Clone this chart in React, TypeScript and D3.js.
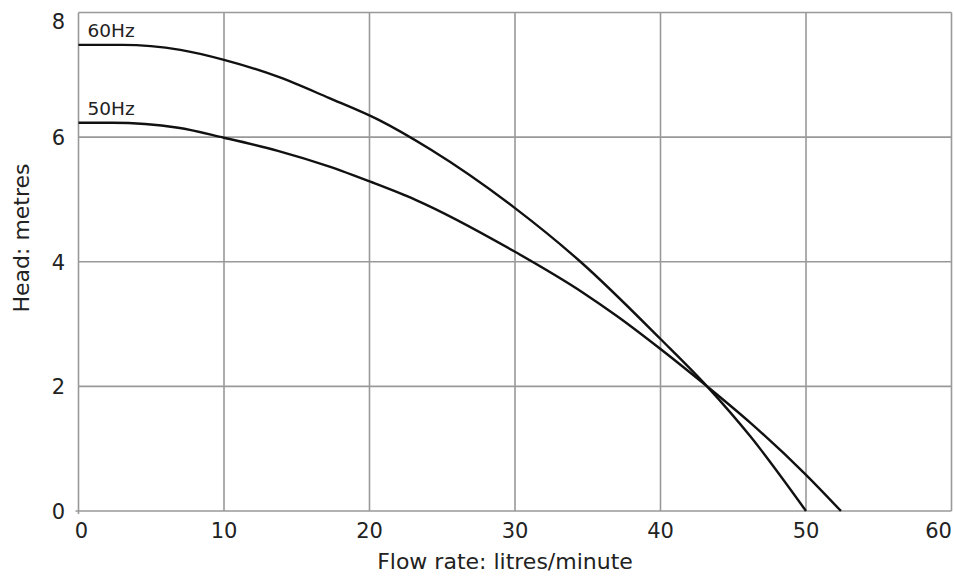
import React from "react";
import * as d3 from "d3";

const flow60 = [0, 3, 7, 10, 13.7, 17.2, 20.6, 24.2, 30, 34.5, 40, 43.2, 46.2, 50];
const head60 = [7.48, 7.48, 7.4, 7.24, 6.97, 6.63, 6.28, 5.8, 4.86, 4.0, 2.76, 2.0, 1.19, 0];
const flow50 = [0, 2.3, 6.85, 10, 13.7, 17.2, 20.1, 23.2, 30, 34.7, 37, 40, 43.2, 46.2, 50, 52.4];
const head50 = [6.23, 6.23, 6.15, 5.99, 5.78, 5.53, 5.28, 4.99, 4.16, 3.5, 3.13, 2.6, 2.0, 1.41, 0.58, 0];
const xTicks = [0, 10, 20, 30, 40, 50, 60];
const yTicks = [0, 2, 4, 6, 8];
const seriesLabels = ["60Hz", "50Hz"];

const W = 954;
const H = 576;
const left = 78.5;
const right = 951.5;
const top = 12.5;
const bottom = 511;
const font = "'DejaVu Sans', sans-serif";

export default function App() {
  const x = d3.scaleLinear().domain([0, 60]).range([left, right]);
  const y = d3.scaleLinear().domain([0, 8]).range([bottom, top]);
  const line = d3
    .line<[number, number]>()
    .x((d) => x(d[0]))
    .y((d) => y(d[1]))
    .curve(d3.curveMonotoneX);
  const d60 = line(flow60.map((f, i) => [f, head60[i]] as [number, number]));
  const d50 = line(flow50.map((f, i) => [f, head50[i]] as [number, number]));
  const labelHeads = [head60[0], head50[0]];

  return (
    <svg
      width={W}
      height={H}
      style={{ position: "absolute", left: 0, top: 0, background: "#fff" }}
    >
      {xTicks.map((t) => (
        <line
          key={"gx" + t}
          x1={x(t)}
          x2={x(t)}
          y1={top}
          y2={t === 0 ? bottom + 3 : bottom}
          stroke="#999"
          strokeWidth={1.6}
        />
      ))}
      {yTicks.map((t) => (
        <line
          key={"gy" + t}
          x1={t === 0 ? left - 3 : left}
          x2={right}
          y1={y(t)}
          y2={y(t)}
          stroke="#999"
          strokeWidth={1.6}
        />
      ))}
      <path d={d60 || ""} fill="none" stroke="#111" strokeWidth={2.4} />
      <path d={d50 || ""} fill="none" stroke="#111" strokeWidth={2.4} />
      {seriesLabels.map((s, i) => (
        <text
          key={s}
          x={x(0) + 9}
          y={y(labelHeads[i]) - 8}
          fontFamily={font}
          fontSize={18.5}
          fill="#222"
        >
          {s}
        </text>
      ))}
      {xTicks.map((t) => (
        <text
          key={"tx" + t}
          x={Math.min(x(t) + (t === 0 ? 3 : 0), right - 13)}
          y={538}
          textAnchor="middle"
          fontFamily={font}
          fontSize={21}
          fill="#222"
        >
          {t}
        </text>
      ))}
      {yTicks.map((t) => (
        <text
          key={"ty" + t}
          x={65}
          y={Math.max(y(t), 21) + 8}
          textAnchor="end"
          fontFamily={font}
          fontSize={21}
          fill="#222"
        >
          {t}
        </text>
      ))}
      <text
        x={505}
        y={569}
        textAnchor="middle"
        fontFamily={font}
        fontSize={22}
        fill="#222"
      >
        Flow rate: litres/minute
      </text>
      <text
        transform={`translate(29,238) rotate(-90)`}
        textAnchor="middle"
        fontFamily={font}
        fontSize={22}
        fill="#222"
      >
        Head: metres
      </text>
    </svg>
  );
}
